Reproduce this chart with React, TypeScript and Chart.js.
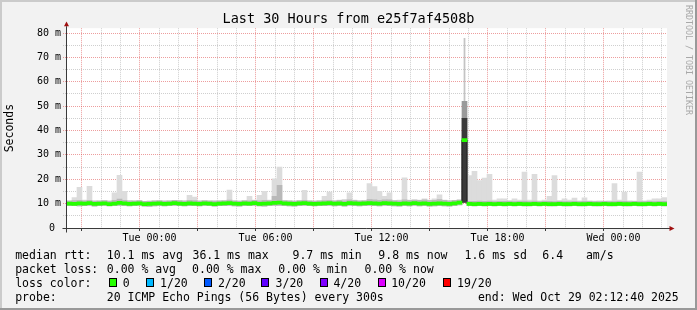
import { useEffect, useRef } from 'react';
import { Chart, registerables } from 'chart.js';

Chart.register(...registerables);

// ---------- text ----------
const TITLE = 'Last 30 Hours from e25f7af4508b';
const Y_TITLE = 'Seconds';
const WATERMARK = 'RRDTOOL / TOBI OETIKER';

// ---------- axes (hours relative to Tue 00:00) ----------
const TIME_START = -3.75;
const TIME_END = 26.25;
const HOUR_LINES = [-3, -2, -1, 0, 1, 2, 3, 4, 5, 6, 7, 8, 9, 10, 11, 12, 13, 14, 15, 16, 17, 18, 19, 20, 21, 22, 23, 24, 25, 26];
const TIME_TICKS = [0, 6, 12, 18, 24];
const TIME_LABELS = ['Tue 00:00', 'Tue 06:00', 'Tue 12:00', 'Tue 18:00', 'Wed 00:00'];
const Y_TICKS = [0, 5, 10, 15, 20, 25, 30, 35, 40, 45, 50, 55, 60, 65, 70, 75, 80];
const Y_MAX = 82;

// ---------- series (ms, one value per 15-minute slot) ----------
const MEDIAN = [
  10.0, 9.9, 10.1, 10.0, 10.2, 9.9, 10.0, 10.1, 9.8, 10.0,
  10.3, 10.1, 9.9, 10.0, 10.1, 9.8, 9.9, 10.0, 10.1, 9.9,
  10.0, 10.2, 10.0, 9.9, 10.1, 10.0, 9.9, 10.1, 10.0, 9.8,
  10.0, 10.1, 10.2, 10.0, 9.9, 10.1, 10.0, 10.2, 9.9, 10.0,
  10.1, 10.3, 10.4, 10.1, 10.0, 9.9, 10.1, 10.2, 10.0, 9.9,
  10.0, 10.1, 10.2, 10.0, 10.1, 9.9, 10.2, 10.1, 10.0, 10.1,
  10.2, 10.1, 10.0, 10.2, 10.1, 10.0, 9.9, 10.1, 10.0, 10.2,
  10.0, 10.1, 9.9, 10.0, 10.1, 10.0, 9.9, 10.1, 10.4, 36.1,
  9.9, 9.8, 9.9, 9.8, 9.9, 9.8, 9.9, 9.8, 9.9, 9.8,
  9.9, 9.8, 9.8, 9.9, 9.8, 9.9, 9.8, 9.8, 9.9, 9.8,
  9.8, 9.9, 9.8, 9.8, 9.9, 9.8, 9.8, 9.9, 9.8, 9.8,
  9.9, 9.8, 9.8, 9.9, 9.8, 9.8, 9.9, 9.8, 9.9, 9.8,
];
const SMOKE_MIN = [
  9.2, 9.3, 9.1, 9.2, 9.3, 9.0, 9.2, 9.3, 9.1, 9.2,
  9.3, 9.2, 9.1, 9.2, 9.3, 9.0, 8.9, 9.1, 9.2, 9.1,
  9.2, 9.3, 9.2, 9.1, 9.2, 9.2, 9.1, 9.3, 9.2, 9.0,
  9.2, 9.2, 9.3, 9.1, 9.0, 9.2, 9.2, 9.3, 9.1, 9.0,
  9.2, 9.3, 9.3, 9.2, 9.1, 9.0, 9.2, 9.3, 9.2, 9.1,
  9.2, 9.2, 9.3, 9.1, 9.2, 9.0, 9.3, 9.2, 9.1, 9.2,
  9.3, 9.2, 9.1, 9.3, 9.2, 9.1, 9.0, 9.2, 9.1, 9.3,
  9.1, 9.2, 9.0, 9.1, 9.2, 9.1, 9.0, 9.2, 9.5, 10.5,
  9.2, 9.1, 9.2, 9.1, 9.2, 9.1, 9.2, 9.1, 9.2, 9.1,
  9.2, 9.1, 9.1, 9.2, 9.1, 9.2, 9.1, 9.1, 9.2, 9.1,
  9.1, 9.2, 9.1, 9.1, 9.2, 9.1, 9.1, 9.2, 9.1, 9.1,
  9.2, 9.1, 9.1, 9.2, 9.1, 9.1, 9.2, 9.1, 9.2, 9.1,
];
const SMOKE_MID = [
  11.2, 11.3, 11.4, 11.1, 11.4, 11.0, 11.2, 11.3, 11.0, 11.4,
  11.9, 11.4, 11.2, 11.1, 11.3, 10.9, 11.0, 11.2, 11.3, 11.0,
  11.2, 11.4, 11.3, 11.0, 11.4, 11.3, 11.0, 11.3, 11.2, 10.9,
  11.2, 11.3, 11.5, 11.2, 11.0, 11.3, 11.2, 11.4, 11.2, 11.4,
  11.3, 13.0, 17.5, 11.3, 11.2, 11.0, 11.3, 11.4, 11.2, 11.0,
  11.2, 11.3, 11.4, 11.2, 11.4, 11.2, 11.6, 11.4, 11.2, 11.3,
  11.7, 11.6, 11.4, 11.6, 11.6, 11.3, 11.2, 11.6, 11.4, 11.6,
  11.4, 11.6, 11.3, 11.4, 11.7, 11.4, 11.2, 11.4, 11.6, 45.0,
  10.9, 10.9, 11.0, 10.9, 11.0, 10.8, 10.9, 10.9, 11.0, 10.8,
  10.9, 11.0, 10.8, 11.0, 10.8, 10.9, 10.9, 10.8, 11.0, 10.8,
  10.8, 10.9, 10.8, 10.9, 10.9, 10.8, 10.8, 10.9, 10.8, 10.8,
  10.9, 10.9, 10.8, 10.9, 10.8, 10.8, 10.9, 10.8, 10.9, 10.9,
];
const SMOKE_MAX = [
  11.0, 12.5, 16.7, 11.5, 17.1, 11.2, 11.0, 11.3, 11.0, 14.4,
  21.6, 15.1, 11.2, 11.0, 11.3, 10.9, 10.8, 11.2, 11.0, 11.1,
  11.2, 11.0, 11.0, 11.3, 13.4, 12.7, 11.1, 11.2, 11.0, 11.4,
  11.2, 11.0, 15.6, 11.2, 11.0, 11.1, 13.0, 11.5, 13.4, 15.0,
  11.5, 20.2, 25.0, 11.3, 11.2, 11.0, 11.1, 15.5, 11.2, 11.0,
  11.3, 13.0, 14.7, 11.2, 11.5, 11.8, 14.4, 11.5, 11.2, 11.0,
  18.2, 17.0, 15.0, 13.0, 14.4, 11.2, 11.5, 20.6, 11.5, 11.2,
  11.5, 12.0, 11.5, 12.0, 13.6, 11.5, 11.2, 11.0, 11.3, 52.0,
  21.5, 23.3, 19.5, 20.5, 22.0, 11.5, 12.0, 12.0, 11.2, 12.0,
  11.5, 22.9, 11.5, 22.0, 11.2, 11.5, 13.0, 21.5, 11.2, 12.0,
  11.5, 12.3, 11.2, 12.4, 11.2, 11.0, 11.2, 11.0, 11.2, 18.2,
  11.5, 14.7, 11.2, 11.0, 23.0, 11.2, 11.5, 12.0, 12.0, 12.5,
];
// the single slowest ping burst (one 5-minute step inside slot 79)
const PEAK_SLOT = 79;
const PEAK_RANGE = [52.0, 78.0];
const SLOTS = MEDIAN.map((_, i) => `slot ${i}`);

// ---------- legend text ----------
const RTT_LABEL = 'median rtt:';
const RTT_STATS = ['10.1 ms avg', '36.1 ms max', '9.7 ms min', '9.8 ms now', '1.6 ms sd', '6.4', 'am/s'];
const LOSS_LABEL = 'packet loss:';
const LOSS_STATS = ['0.00 % avg', '0.00 % max', '0.00 % min', '0.00 % now'];
const LOSS_COLOR_LABEL = 'loss color:';
const LOSS_KEYS = ['0', '1/20', '2/20', '3/20', '4/20', '10/20', '19/20'];
const LOSS_COLORS = ['#26ff00', '#00b8ff', '#0059ff', '#5e00ff', '#7e00ff', '#dd00ff', '#ff0000'];
const PROBE_LABEL = 'probe:';
const PROBE_TEXT = '20 ICMP Echo Pings (56 Bytes) every 300s';
const END_TEXT = 'end: Wed Oct 29 02:12:40 2025';

// ---------- styles ----------
const MONO = "'DejaVu Sans Mono', monospace";
const BACK = '#f2f2f2';
const AXIS = '#3a3a3a';
const ARROW = '#a01010';
const GRID = 'rgba(140,140,140,0.42)';
const MGRID = 'rgba(220,60,60,0.5)';

const rrdPlugin = {
  id: 'rrdFrame',
  beforeDraw(chart: any) {
    const { ctx, width, height, chartArea: a } = chart;
    ctx.save();
    ctx.fillStyle = BACK;
    ctx.fillRect(0, 0, width, height);
    ctx.fillStyle = '#cbcbcb';
    ctx.fillRect(0, 0, width, 2);
    ctx.fillRect(0, 0, 2, height);
    ctx.fillStyle = '#999999';
    ctx.fillRect(0, height - 2, width, 2);
    ctx.fillRect(width - 2, 0, 2, height);
    ctx.fillStyle = '#ffffff';
    ctx.fillRect(a.left, a.top, a.right - a.left, a.bottom - a.top);
    ctx.restore();
  },
  afterDraw(chart: any) {
    const { ctx, chartArea: a } = chart;
    ctx.save();
    // axis lines
    const ax = Math.round(a.left) - 0.5;
    const ay = Math.round(a.bottom) + 0.5;
    ctx.strokeStyle = AXIS;
    ctx.lineWidth = 1;
    ctx.beginPath();
    ctx.moveTo(ax, ay + 4);
    ctx.lineTo(ax, a.top - 2);
    ctx.moveTo(ax - 4, ay);
    ctx.lineTo(a.right + 3, ay);
    ctx.stroke();
    // arrows
    ctx.fillStyle = ARROW;
    ctx.beginPath();
    ctx.moveTo(ax, a.top - 6.8);
    ctx.lineTo(ax - 2.5, a.top - 2);
    ctx.lineTo(ax + 2.5, a.top - 2);
    ctx.closePath();
    ctx.fill();
    ctx.beginPath();
    ctx.moveTo(a.right + 7.5, ay);
    ctx.lineTo(a.right + 2.5, ay - 2.5);
    ctx.lineTo(a.right + 2.5, ay + 2.5);
    ctx.closePath();
    ctx.fill();

    // watermark
    ctx.save();
    ctx.translate(688, 5);
    ctx.rotate(Math.PI / 2);
    ctx.font = `8.3px ${MONO}`;
    ctx.fillStyle = '#a8a8a8';
    ctx.textBaseline = 'middle';
    ctx.textAlign = 'left';
    ctx.fillText(WATERMARK, 0, 0);
    ctx.restore();

    // legend
    ctx.font = `11.5px ${MONO}`;
    ctx.fillStyle = '#000';
    ctx.textBaseline = 'alphabetic';
    ctx.textAlign = 'left';
    const r1 = 258.5, r2 = 272.5, r3 = 286.5, r4 = 300.5;
    ctx.fillText(RTT_LABEL, 15.2, r1);
    const rttX = [106.8, 192.5, 292.5, 378.3, 464.5, 542.3, 585.9];
    RTT_STATS.forEach((t, i) => ctx.fillText(t, rttX[i], r1));
    ctx.fillText(LOSS_LABEL, 15.2, r2);
    const lossX = [106.8, 192.1, 278.3, 364.5];
    LOSS_STATS.forEach((t, i) => ctx.fillText(t, lossX[i], r2));
    ctx.fillText(LOSS_COLOR_LABEL, 15.2, r3);
    const boxX = [109, 146, 204, 261, 320, 378, 443];
    const keyX = [122.8, 160.1, 217.9, 275.6, 333.4, 391.2, 457.0];
    LOSS_KEYS.forEach((t, i) => {
      ctx.fillStyle = LOSS_COLORS[i];
      ctx.fillRect(boxX[i], 278, 8, 9);
      ctx.strokeStyle = '#000';
      ctx.lineWidth = 1;
      ctx.strokeRect(boxX[i] + 0.5, 278.5, 7, 8);
      ctx.fillStyle = '#000';
      ctx.fillText(t, keyX[i], r3);
    });
    ctx.fillText(PROBE_LABEL, 15.2, r4);
    ctx.fillText(PROBE_TEXT, 106.8, r4);
    ctx.fillText(END_TEXT, 477.9, r4);
    ctx.restore();
  },
};

export default function App() {
  const ref = useRef<HTMLCanvasElement>(null);

  useEffect(() => {
    document.body.style.margin = '0';
    const canvas = ref.current;
    if (!canvas) return;

    const barBase = {
      borderWidth: 0,
      grouped: false,
      barPercentage: 1,
      categoryPercentage: 1,
    };

    const chart = new Chart(canvas, {
      type: 'bar',
      data: {
        labels: SLOTS,
        datasets: [
          {
            ...barBase,
            label: 'median (loss 0)',
            data: MEDIAN.map((m) => [m - 0.65, m + 0.65]) as any,
            backgroundColor: LOSS_COLORS[0],
            order: 0,
          } as any,
          {
            type: 'line',
            label: 'median',
            data: MEDIAN,
            borderColor: '#202020',
            borderWidth: 1,
            pointRadius: 0,
            stepped: 'middle',
            order: 1,
          } as any,
          {
            ...barBase,
            label: 'smoke core',
            data: SMOKE_MID.map((hi, i) => [SMOKE_MIN[i], hi]) as any,
            backgroundColor: (c: any) => (c.raw && c.raw[1] > 30 ? '#3a3a3a' : '#b9b9b9'),
            order: 2,
          } as any,
          {
            ...barBase,
            label: 'smoke',
            data: SMOKE_MAX.map((hi, i) => [SMOKE_MIN[i], hi]) as any,
            backgroundColor: (c: any) => (c.raw && c.raw[1] > 40 ? '#9a9a9a' : '#dcdcdc'),
            order: 3,
          } as any,
          {
            ...barBase,
            label: 'smoke peak',
            data: SLOTS.map((_, i) => (i === PEAK_SLOT ? PEAK_RANGE : null)) as any,
            backgroundColor: '#c4c4c4',
            barPercentage: 0.35,
            order: 4,
          } as any,
        ],
      },
      options: {
        responsive: false,
        animation: false,
        devicePixelRatio: 1,
        events: [],
        layout: { padding: 0 },
        plugins: {
          legend: { display: false },
          tooltip: { enabled: false },
          title: {
            display: true,
            text: TITLE,
            color: '#000',
            font: { family: MONO, size: 13.5, weight: 'normal', lineHeight: 1.2 },
            padding: { top: 11, bottom: 1 },
          },
        },
        scales: {
          x: {
            type: 'category',
            display: false,
            offset: true,
          },
          xt: {
            type: 'linear',
            position: 'bottom',
            min: TIME_START,
            max: TIME_END,
            z: 1,
            afterBuildTicks: (s: any) => {
              s.ticks = HOUR_LINES.map((v) => ({ value: v }));
            },
            afterFit: (s: any) => {
              s.height = 82;
            },
            ticks: {
              autoSkip: false,
              maxRotation: 0,
              padding: 1,
              color: '#000',
              font: { family: MONO, size: 10 },
              callback: (v: any) => {
                const k = TIME_TICKS.indexOf(Number(v));
                return k >= 0 ? TIME_LABELS[k] : '';
              },
            },
            grid: {
              color: (c: any) => (c.tick && c.tick.value % 3 === 0 ? MGRID : GRID),
              lineWidth: 1,
              tickLength: 3,
              tickColor: (c: any) => (c.tick && c.tick.value % 3 === 0 ? AXIS : 'rgba(0,0,0,0)'),
            },
            border: { display: false, dash: [1, 1] },
          },
          y: {
            type: 'linear',
            min: 0,
            max: Y_MAX,
            z: 1,
            afterBuildTicks: (s: any) => {
              s.ticks = Y_TICKS.map((v) => ({ value: v }));
            },
            afterFit: (s: any) => {
              s.width = 67;
            },
            ticks: {
              autoSkip: false,
              padding: 2,
              color: '#000',
              font: { family: MONO, size: 10 },
              callback: (v: any) => {
                const n = Number(v);
                if (n % 10 !== 0) return '';
                return n === 0 ? '0 ' : `${n} m`;
              },
            },
            grid: {
              color: (c: any) => (c.tick && c.tick.value % 10 === 0 ? MGRID : GRID),
              lineWidth: 1,
              tickLength: 4,
              tickColor: (c: any) => (c.tick && c.tick.value % 10 === 0 ? MGRID : GRID),
              tickBorderDash: [1, 1],
            },
            border: { display: false, dash: [1, 1] },
            title: {
              display: true,
              text: Y_TITLE,
              color: '#000',
              font: { family: MONO, size: 11.5, lineHeight: 1.2 },
              padding: { top: 3.6, bottom: 0 },
            },
          },
          yr: {
            type: 'linear',
            position: 'right',
            display: true,
            ticks: { display: false },
            grid: { display: false, drawTicks: false },
            border: { display: false },
            afterFit: (s: any) => {
              s.width = 30;
            },
          },
        },
      } as any,
      plugins: [rrdPlugin],
    });

    return () => chart.destroy();
  }, []);

  return (
    <canvas
      ref={ref}
      width={697}
      height={310}
      style={{ display: 'block', width: 697, height: 310 }}
    />
  );
}
